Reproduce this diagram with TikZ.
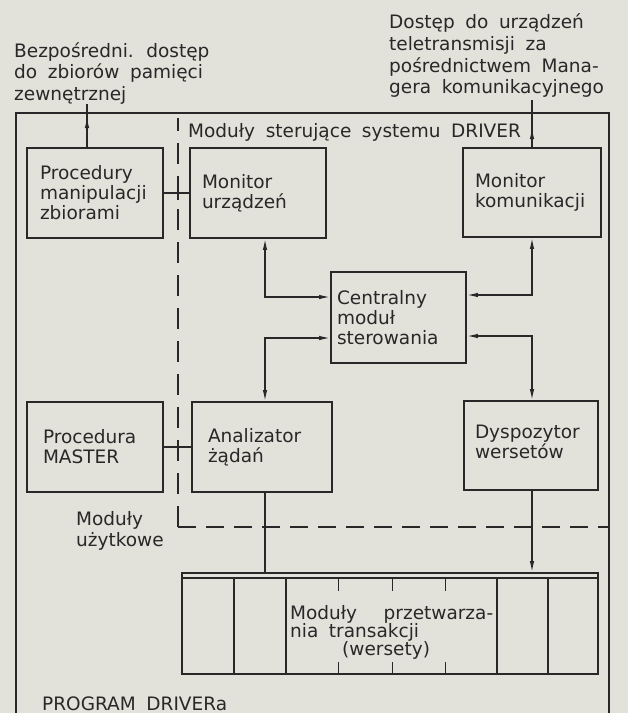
\documentclass[tikz,border=0pt]{standalone}
\usepackage{fontspec}
\setmainfont{DejaVu Sans}[WordSpace=1.8]
\usetikzlibrary{arrows.meta}
\definecolor{paper}{RGB}{226,225,218}
\definecolor{ink}{RGB}{40,40,40}
\newcommand{\dfont}{\fontsize{18.5}{20}\selectfont}
\begin{document}
\begin{tikzpicture}[x=1pt,y=-1pt,
  box/.style={draw=ink, line width=1.9pt, align=left, inner ysep=0pt, font=\dfont, text=ink},
  lbl/.style={anchor=base west, inner sep=0pt, font=\dfont, text=ink},
  conn/.style={draw=ink, line width=1.3pt},
  tip/.style={-{Latex[length=11pt,width=4.5pt]}},
  both/.style={{Latex[length=11pt,width=4.5pt]}-{Latex[length=11pt,width=4.5pt]}},
  dashln/.style={draw=ink, line width=1.4pt, dash pattern=on 21pt off 12pt},
  frameln/.style={draw=ink, line width=1.9pt}]
\useasboundingbox (0,0) rectangle (628,713);
\fill[paper] (0,0) rectangle (628,713);
\clip (0,0) rectangle (628,713);

% outer frame (bottom edge beyond the picture)
\draw[frameln] (16,725) -- (16,113) -- (609,113) -- (609,725);

% boxes
\node[box, minimum width=136pt, minimum height=90pt, text width=110pt, inner xsep=13pt] (proc) at (95,193) {Procedury\\manipulacji\\zbiorami};
\node[box, minimum width=136pt, minimum height=90pt, text width=112pt, inner xsep=12pt] (monu) at (258,193) {Monitor\\urządzeń};
\node[box, minimum width=138pt, minimum height=89pt, text width=114pt, inner xsep=12pt] (monk) at (532,192.5) {Monitor\\komunikacji};
\node[box, minimum width=135pt, minimum height=91pt, text width=123pt, inner xsep=6pt] (cent) at (398.5,317.5) {Centralny\\moduł\\sterowania};
\node[box, minimum width=136pt, minimum height=90pt, text width=104pt, inner xsep=16pt] (proM) at (95,447) {Procedura\\MASTER};
\node[box, minimum width=140pt, minimum height=90pt, text width=108pt, inner xsep=16pt] (anal) at (262,447) {Analizator\\żądań};
\node[box, minimum width=134pt, minimum height=89pt, text width=112pt, inner xsep=11pt] (disp) at (531,445.5) {Dyspozytor\\wersetów\vspace{8pt}};
\node[box, minimum width=416pt, minimum height=101pt, inner xsep=0pt] (wers) at (390,623.5) {};

% wersety box details
\draw[conn] (182,578) -- (598,578);
\foreach \xx in {234,286,497,548} \draw[conn] (\xx,578) -- (\xx,674);
\foreach \xx in {338,392,445} {
  \draw[conn, line width=1pt] (\xx,578) -- (\xx,591);
  \draw[conn, line width=1pt] (\xx,662) -- (\xx,674);
}
\node[lbl] (w1) at (290,619) {\hbox to 203pt{Moduły\hfill przetwarza-}};
\node[lbl] (w2) at (290,637) {nia transakcji};
\node[lbl] (w3) at (342,655) {(wersety)};

% dashed boundary
\coordinate (dc) at (178,527);
\coordinate (dtop) at (178,118);
\coordinate (dright) at (609,527);
\draw[dashln] (dc) -- (dtop);
\draw[dashln, dash pattern=on 18pt off 10pt] (dc) -- (dright);

% outgoing arrows
\coordinate (pa) at (87,148);
\coordinate (pb) at (87,117);
\coordinate (pc) at (87,104);
\draw[conn] (pa) -- (pc);
\draw[conn,tip] (pa) -- (pb);
\coordinate (ka) at (532,128);
\coordinate (kb) at (532,100);
\draw[conn] (monk.north) -- (kb);
\draw[conn,tip] (monk.north) -- (ka);

% horizontal links across the dashed line
\draw[conn] (proc.east) -- (monu.west);
\draw[conn] (178,186) -- (178,200);
\draw[conn] (proM.east) -- (anal.west);
\draw[conn] (178,440) -- (178,454);

% links of central module
\draw[conn,both] (monu.south -| 265,0) -- (265,297) -- (cent.west |- 0,297);
\draw[conn,both] (cent.west |- 0,338) -- (265,338) -- (anal.north -| 265,0);
\draw[conn,both] (cent.east |- 0,295) -- (532,295) -- (monk.south);
\draw[conn,both] (cent.east |- 0,336) -- (532,336) -- (disp.north -| 532,0);

% links to wersety
\draw[conn] (anal.south -| 265,0) -- (wers.north -| 265,0);
\draw[conn,tip] (disp.south -| 532,0) -- (wers.north -| 532,0);

% labels
\node[lbl] (tl1) at (14,57) {Bezpośredni. dostęp};
\node[lbl] (tl2) at (14,78.5) {do zbiorów pamięci};
\node[lbl] (tl3) at (14,100) {zewnętrznej};
\node[lbl] (tr1) at (389,28) {Dostęp do urządzeń};
\node[lbl] (tr2) at (389,50) {teletransmisji za};
\node[lbl] (tr3) at (389,72) {pośrednictwem Mana-};
\node[lbl] (tr4) at (389,93.5) {gera komunikacyjnego};
\node[lbl] (ms) at (188,137) {Moduły sterujące systemu DRIVER};
\node[lbl] (mu1) at (76,525) {Moduły};
\node[lbl] (mu2) at (76,546) {użytkowe};
\node[lbl] (pd) at (42,710) {PROGRAM DRIVERa};
\end{tikzpicture}
\end{document}
